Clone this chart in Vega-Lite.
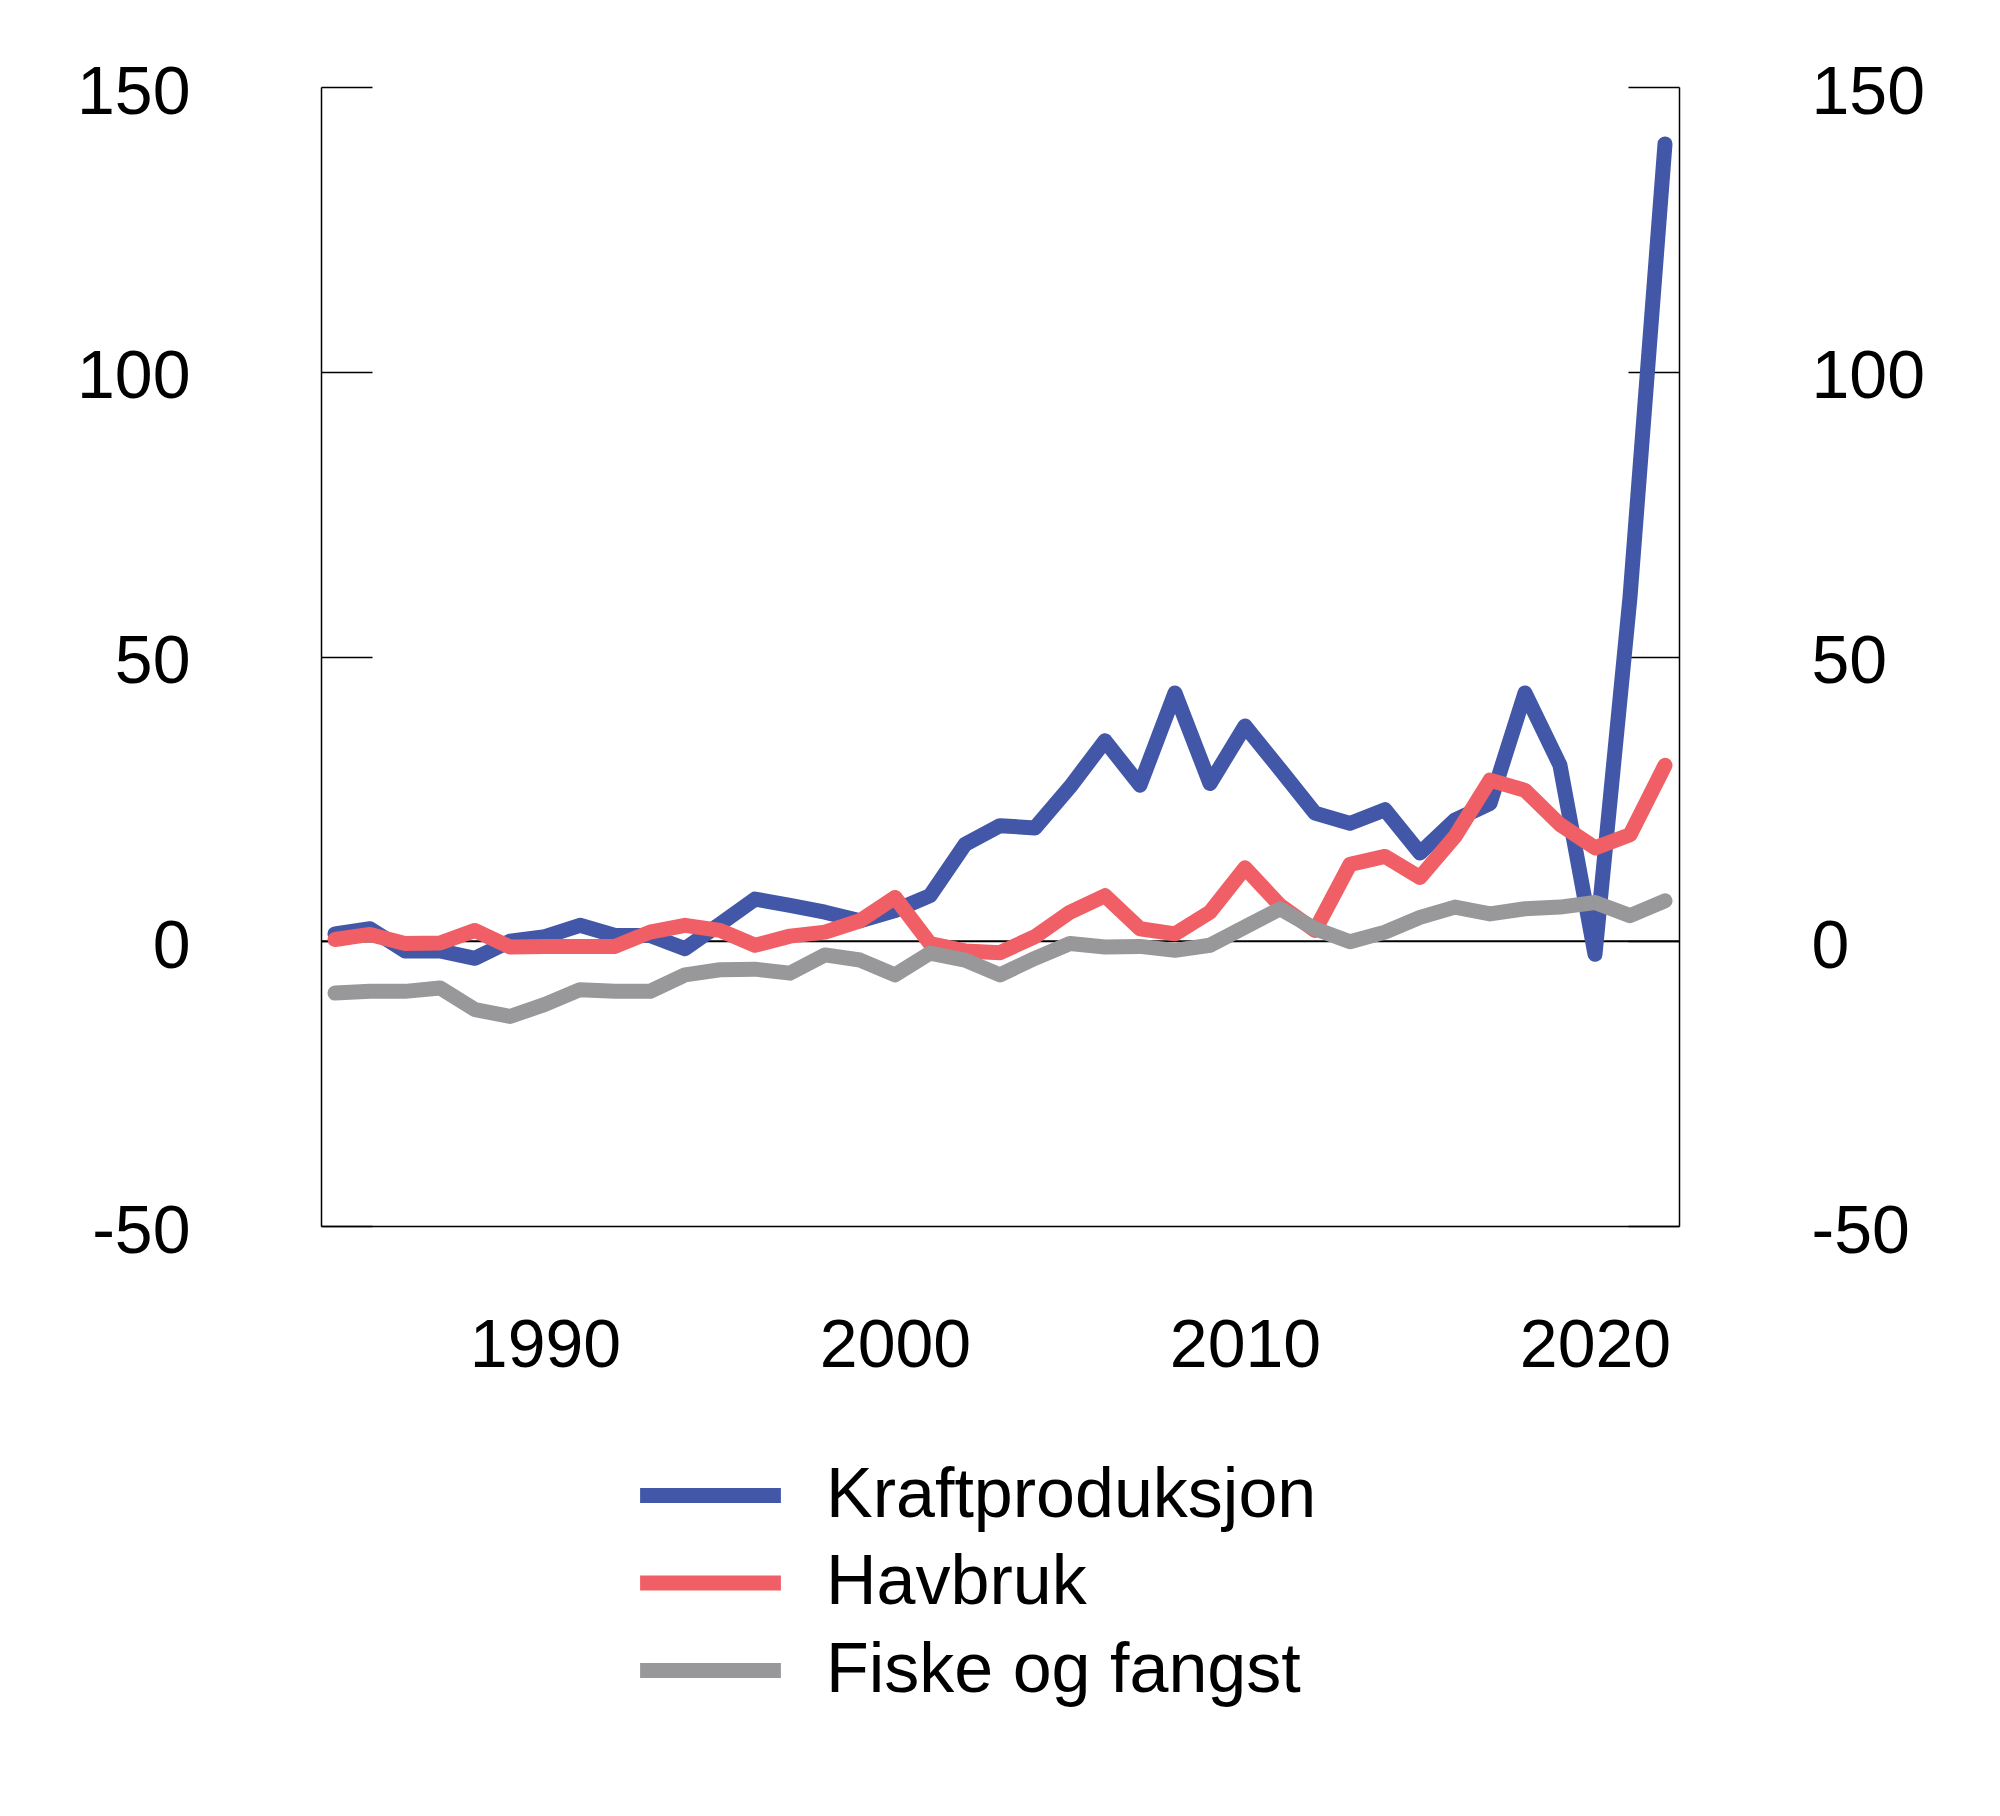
{
  "$schema": "https://vega.github.io/schema/vega-lite/v6.json",
  "width": 1358,
  "height": 1139,
  "autosize": {"type": "none"},
  "padding": {"left": 321, "top": 87, "right": 321, "bottom": 590},
  "background": "white",
  "config": {
    "view": {"stroke": null},
    "font": "Liberation Sans",
    "axis": {"labelFont": "Liberation Sans", "labelFontSize": 68, "labelColor": "#000", "domainColor": "#000", "tickColor": "#000", "grid": false, "title": null, "labelFlush": false, "labelOverlap": false, "domainWidth": 1.5, "tickWidth": 1.5},
    "legend": {"labelFont": "Liberation Sans"}
  },
  "layer": [
    {
      "data": {"values": [{"v": 0}]},
      "mark": {"type": "rule", "stroke": "#000", "strokeWidth": 2},
      "encoding": {
        "y": {"field": "v", "type": "quantitative", "scale": {"domain": [-50, 150], "nice": false, "zero": false},
          "axis": {"orient": "right", "values": [-50, 0, 50, 100, 150], "labelExpr": "'' + datum.value", "tickSize": -51, "labelPadding": 183, "labelAlign": "left", "labelBaseline": "middle", "labelOffset": 6}}
      }
    },
    {
      "data": {"values": [
        {"year":1984,"serie":"Kraftproduksjon","v":1.3},{"year":1985,"serie":"Kraftproduksjon","v":2.2},{"year":1986,"serie":"Kraftproduksjon","v":-1.7},{"year":1987,"serie":"Kraftproduksjon","v":-1.7},{"year":1988,"serie":"Kraftproduksjon","v":-3.0},{"year":1989,"serie":"Kraftproduksjon","v":0.0},{"year":1990,"serie":"Kraftproduksjon","v":0.8},{"year":1991,"serie":"Kraftproduksjon","v":2.8},{"year":1992,"serie":"Kraftproduksjon","v":1.0},{"year":1993,"serie":"Kraftproduksjon","v":1.0},{"year":1994,"serie":"Kraftproduksjon","v":-1.3},{"year":1995,"serie":"Kraftproduksjon","v":3.0},{"year":1996,"serie":"Kraftproduksjon","v":7.4},{"year":1997,"serie":"Kraftproduksjon","v":6.3},{"year":1998,"serie":"Kraftproduksjon","v":5.1},{"year":1999,"serie":"Kraftproduksjon","v":3.6},{"year":2000,"serie":"Kraftproduksjon","v":5.4},{"year":2001,"serie":"Kraftproduksjon","v":8.0},{"year":2002,"serie":"Kraftproduksjon","v":17.0},{"year":2003,"serie":"Kraftproduksjon","v":20.3},{"year":2004,"serie":"Kraftproduksjon","v":19.9},{"year":2005,"serie":"Kraftproduksjon","v":27.1},{"year":2006,"serie":"Kraftproduksjon","v":35.2},{"year":2007,"serie":"Kraftproduksjon","v":27.4},{"year":2008,"serie":"Kraftproduksjon","v":43.6},{"year":2009,"serie":"Kraftproduksjon","v":27.7},{"year":2010,"serie":"Kraftproduksjon","v":37.8},{"year":2011,"serie":"Kraftproduksjon","v":30.2},{"year":2012,"serie":"Kraftproduksjon","v":22.5},{"year":2013,"serie":"Kraftproduksjon","v":20.7},{"year":2014,"serie":"Kraftproduksjon","v":23.1},{"year":2015,"serie":"Kraftproduksjon","v":15.5},{"year":2016,"serie":"Kraftproduksjon","v":21.3},{"year":2017,"serie":"Kraftproduksjon","v":24.2},{"year":2018,"serie":"Kraftproduksjon","v":43.6},{"year":2019,"serie":"Kraftproduksjon","v":30.9},{"year":2020,"serie":"Kraftproduksjon","v":-2.3},{"year":2021,"serie":"Kraftproduksjon","v":60.4},{"year":2022,"serie":"Kraftproduksjon","v":140.0},
        {"year":1984,"serie":"Havbruk","v":0.3},{"year":1985,"serie":"Havbruk","v":1.2},{"year":1986,"serie":"Havbruk","v":-0.4},{"year":1987,"serie":"Havbruk","v":-0.3},{"year":1988,"serie":"Havbruk","v":1.9},{"year":1989,"serie":"Havbruk","v":-1.0},{"year":1990,"serie":"Havbruk","v":-0.9},{"year":1991,"serie":"Havbruk","v":-0.9},{"year":1992,"serie":"Havbruk","v":-0.9},{"year":1993,"serie":"Havbruk","v":1.6},{"year":1994,"serie":"Havbruk","v":2.8},{"year":1995,"serie":"Havbruk","v":1.9},{"year":1996,"serie":"Havbruk","v":-0.7},{"year":1997,"serie":"Havbruk","v":0.9},{"year":1998,"serie":"Havbruk","v":1.6},{"year":1999,"serie":"Havbruk","v":3.6},{"year":2000,"serie":"Havbruk","v":7.7},{"year":2001,"serie":"Havbruk","v":-0.4},{"year":2002,"serie":"Havbruk","v":-1.7},{"year":2003,"serie":"Havbruk","v":-2.0},{"year":2004,"serie":"Havbruk","v":0.8},{"year":2005,"serie":"Havbruk","v":5.1},{"year":2006,"serie":"Havbruk","v":8.0},{"year":2007,"serie":"Havbruk","v":2.2},{"year":2008,"serie":"Havbruk","v":1.3},{"year":2009,"serie":"Havbruk","v":5.1},{"year":2010,"serie":"Havbruk","v":12.9},{"year":2011,"serie":"Havbruk","v":6.3},{"year":2012,"serie":"Havbruk","v":1.9},{"year":2013,"serie":"Havbruk","v":13.5},{"year":2014,"serie":"Havbruk","v":14.9},{"year":2015,"serie":"Havbruk","v":11.2},{"year":2016,"serie":"Havbruk","v":18.4},{"year":2017,"serie":"Havbruk","v":28.3},{"year":2018,"serie":"Havbruk","v":26.5},{"year":2019,"serie":"Havbruk","v":20.5},{"year":2020,"serie":"Havbruk","v":16.4},{"year":2021,"serie":"Havbruk","v":18.7},{"year":2022,"serie":"Havbruk","v":30.9},
        {"year":1984,"serie":"Fiske og fangst","v":-9.1},{"year":1985,"serie":"Fiske og fangst","v":-8.8},{"year":1986,"serie":"Fiske og fangst","v":-8.8},{"year":1987,"serie":"Fiske og fangst","v":-8.2},{"year":1988,"serie":"Fiske og fangst","v":-12.0},{"year":1989,"serie":"Fiske og fangst","v":-13.2},{"year":1990,"serie":"Fiske og fangst","v":-11.1},{"year":1991,"serie":"Fiske og fangst","v":-8.5},{"year":1992,"serie":"Fiske og fangst","v":-8.8},{"year":1993,"serie":"Fiske og fangst","v":-8.8},{"year":1994,"serie":"Fiske og fangst","v":-5.9},{"year":1995,"serie":"Fiske og fangst","v":-5.0},{"year":1996,"serie":"Fiske og fangst","v":-4.9},{"year":1997,"serie":"Fiske og fangst","v":-5.6},{"year":1998,"serie":"Fiske og fangst","v":-2.4},{"year":1999,"serie":"Fiske og fangst","v":-3.3},{"year":2000,"serie":"Fiske og fangst","v":-5.9},{"year":2001,"serie":"Fiske og fangst","v":-2.1},{"year":2002,"serie":"Fiske og fangst","v":-3.3},{"year":2003,"serie":"Fiske og fangst","v":-5.9},{"year":2004,"serie":"Fiske og fangst","v":-3.0},{"year":2005,"serie":"Fiske og fangst","v":-0.4},{"year":2006,"serie":"Fiske og fangst","v":-1.0},{"year":2007,"serie":"Fiske og fangst","v":-0.9},{"year":2008,"serie":"Fiske og fangst","v":-1.6},{"year":2009,"serie":"Fiske og fangst","v":-0.7},{"year":2010,"serie":"Fiske og fangst","v":2.5},{"year":2011,"serie":"Fiske og fangst","v":5.7},{"year":2012,"serie":"Fiske og fangst","v":2.2},{"year":2013,"serie":"Fiske og fangst","v":-0.1},{"year":2014,"serie":"Fiske og fangst","v":1.6},{"year":2015,"serie":"Fiske og fangst","v":4.2},{"year":2016,"serie":"Fiske og fangst","v":6.0},{"year":2017,"serie":"Fiske og fangst","v":4.8},{"year":2018,"serie":"Fiske og fangst","v":5.7},{"year":2019,"serie":"Fiske og fangst","v":6.0},{"year":2020,"serie":"Fiske og fangst","v":6.8},{"year":2021,"serie":"Fiske og fangst","v":4.5},{"year":2022,"serie":"Fiske og fangst","v":7.1}
      ]},
      "mark": {"type": "line", "strokeWidth": 15, "strokeCap": "round", "strokeJoin": "round"},
      "encoding": {
        "x": {"field": "year", "type": "quantitative", "scale": {"domain": [1983.6, 2022.4], "nice": false, "zero": false},
          "axis": {"values": [1990, 2000, 2010, 2020], "format": "d", "ticks": false, "labelPadding": 86}},
        "y": {"field": "v", "type": "quantitative", "scale": {"domain": [-50, 150], "nice": false, "zero": false},
          "axis": {"orient": "left", "values": [-50, 0, 50, 100, 150], "labelExpr": "'' + datum.value", "tickSize": -51, "labelPadding": 182, "labelAlign": "right", "labelBaseline": "middle", "labelOffset": 6}},
        "color": {"field": "serie", "type": "nominal",
          "scale": {"domain": ["Kraftproduksjon", "Havbruk", "Fiske og fangst"], "range": ["#4257A7", "#F05F65", "#98979A"]},
          "legend": {"title": null, "orient": "none", "legendX": 338, "legendY": 1357, "direction": "vertical", "padding": 0,
            "symbolType": "M-1.6,0H1.6", "symbolSize": 7744, "symbolStrokeWidth": 15, "labelFontSize": 70, "labelColor": "#000", "labelOffset": 64, "rowPadding": 0.5, "labelBaseline": "middle", "labelLimit": 0}}
      }
    }
  ],
  "resolve": {"scale": {"y": "independent"}}
}
